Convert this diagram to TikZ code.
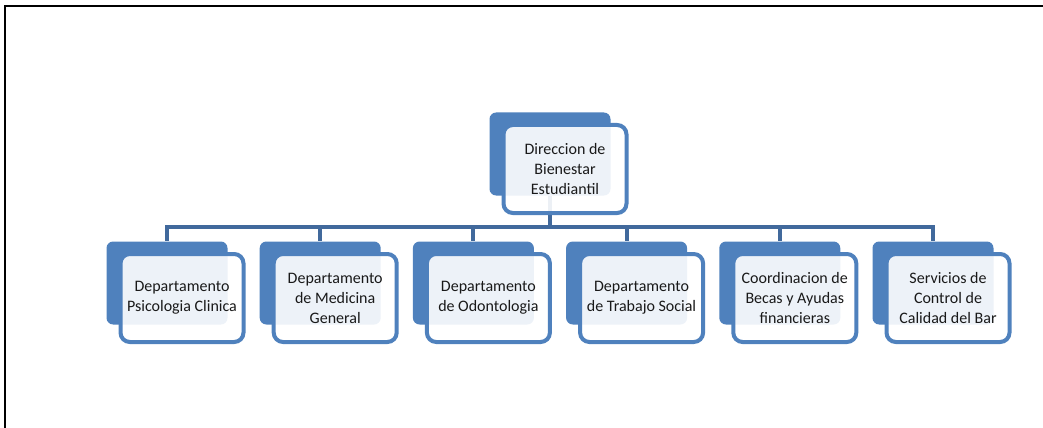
\documentclass[tikz,border=0pt]{standalone}
\usepackage{fontspec}
\setmainfont{Carlito}
\definecolor{boxblue}{HTML}{4F81BD}
\definecolor{linkblue}{HTML}{41699C}
\tikzset{
  backbox/.style={fill=boxblue, rounded corners=5pt, minimum width=90.75pt,
    minimum height=62.25pt, inner sep=0pt},
  frontbox/.style={draw=boxblue, line width=3pt, fill=white, fill opacity=0.9,
    text opacity=1, rounded corners=7pt, minimum width=92.25pt, minimum height=66pt,
    inner sep=0pt, text width=86pt, align=flush center, text=black!90,
    font=\fontsize{12pt}{15pt}\selectfont},
  link/.style={draw=linkblue, line width=3pt}
}
\begin{document}
\begin{tikzpicture}[x=0.75pt,y=-0.75pt]
\useasboundingbox (0,0) rectangle (1043,428);
\draw[line width=1.5pt] (1043,6) -- (5,6) -- (5,428);

% back shapes
\node[backbox] (topback) at (550,154) {};
\foreach \i/\name in {0/psi,1/med,2/odo,3/tra,4/bec,5/cal}
  \node[backbox] (\name back) at ({167+153.2*\i},283) {};

% links
\coordinate (hbar) at (550,227);
\draw[link] (topback.south) -- (hbar);
\foreach \name in {psi,med,odo,tra,bec,cal}
  \draw[link] (hbar) -| (\name back.north);

% front boxes
\node[frontbox] (top) at ([shift={(15,15)}]topback.center) {Direccion de\\Bienestar\\Estudiantil};
\foreach \name/\txt in {psi/{Departamento\\Psicologia Clinica},
                        med/{Departamento\\de Medicina\\General},
                        odo/{Departamento\\de Odontologia},
                        tra/{Departamento\\de Trabajo Social},
                        bec/{Coordinacion de\\Becas y Ayudas\\financieras},
                        cal/{Servicios de\\Control de\\Calidad del Bar}}
  \node[frontbox] (\name) at ([shift={(15,15)}]\name back.center) {\txt};
\end{tikzpicture}
\end{document}
